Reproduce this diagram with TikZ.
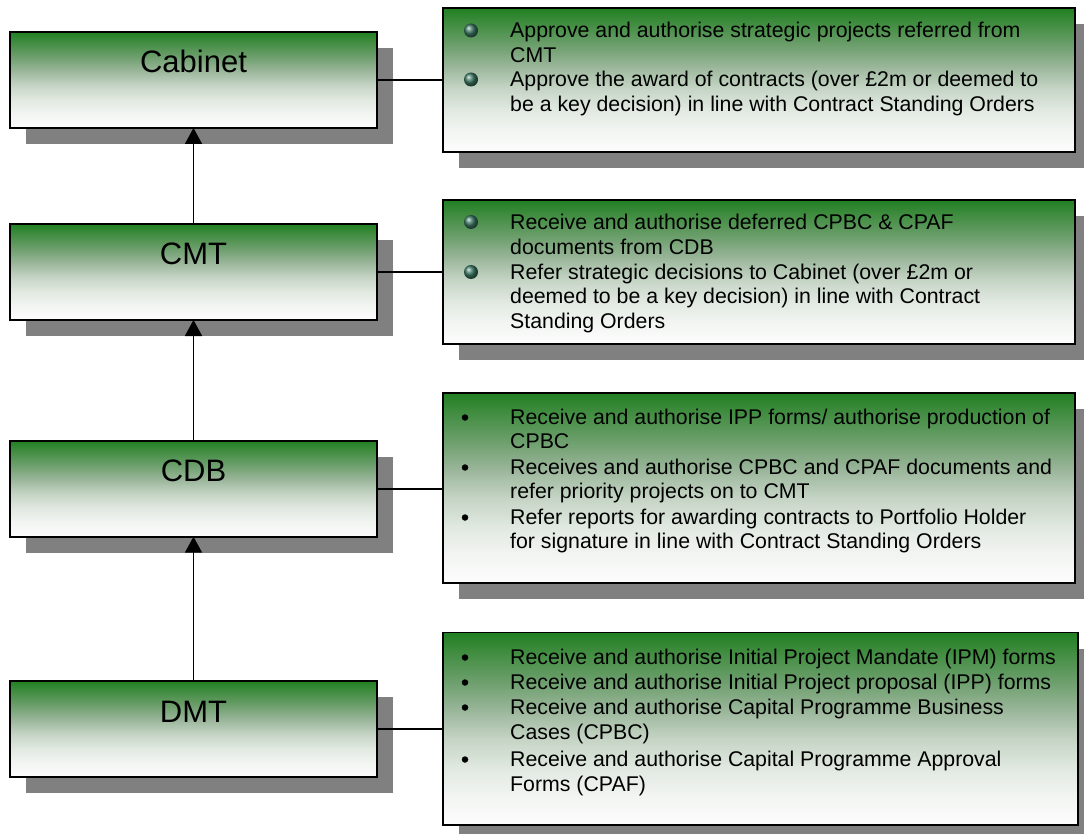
\documentclass[tikz,border=0pt]{standalone}
\usepackage{fontspec}
\setmainfont{Liberation Sans}
\usetikzlibrary{shadows,arrows.meta}
\pgfdeclareverticalshading{greenfade}{100bp}{rgb(0bp)=(0.99,0.99,0.99); rgb(25bp)=(0.99,0.99,0.99); rgb(32.5bp)=(0.95,0.96,0.95); rgb(40bp)=(0.88,0.91,0.88); rgb(47.5bp)=(0.77,0.83,0.77); rgb(55bp)=(0.6,0.71,0.6); rgb(62.5bp)=(0.42,0.62,0.42); rgb(70bp)=(0.25,0.55,0.25); rgb(75bp)=(0.13,0.5,0.13); rgb(100bp)=(0.13,0.5,0.13)}
\definecolor{shadowc}{RGB}{128,128,128}
\definecolor{ballc}{RGB}{60,120,100}
\begin{document}
\begin{tikzpicture}[x=1pt,y=-1pt,
  box/.style={draw=black, line width=1.9pt, shade, shading=greenfade, inner sep=0pt, outer sep=0pt,
    drop shadow={shadow xshift=16pt, shadow yshift=-16pt, opacity=1, fill=shadowc, draw=none}},
  lbox/.style={box, minimum width=367pt, minimum height=96pt},
  ltext/.style={anchor=base, font=\fontsize{31}{37}\selectfont, inner sep=0pt},
  rtext/.style={anchor=base west, font=\fontsize{21.3}{25}\selectfont, inner sep=0pt},
  ballb/.style={circle, minimum size=14pt, inner sep=0pt, ball color=ballc},
  dotb/.style={circle, fill=black, minimum size=6.5pt, inner sep=0pt},
  conn/.style={line width=1.8pt},
  arr/.style={line width=1.8pt, -{Triangle[width=17pt,length=16pt]}}
]
\useasboundingbox (0,0) rectangle (1084,834);

% left boxes
\node[lbox] (cab) at (193.5,80) {};
\node[lbox] (cmt) at (193.5,272) {};
\node[lbox] (cdb) at (193.5,488.7) {};
\node[lbox] (dmt) at (193.5,729) {};
\node[ltext] (cabT) at (193.5,73) {Cabinet};
\node[ltext] (cmtT) at (193.5,265) {CMT};
\node[ltext] (cdbT) at (193.5,481.7) {CDB};
\node[ltext] (dmtT) at (193.5,722) {DMT};

% right boxes
\node[box, minimum width=632.3pt, minimum height=144pt] (r1) at (758.85,80.3) {};
\node[box, minimum width=632.3pt, minimum height=144.3pt] (r2) at (758.85,272.15) {};
\node[box, minimum width=632.3pt, minimum height=190.6pt] (r3) at (758.85,488) {};
\node[box, minimum width=635.3pt, minimum height=192.5pt] (r4) at (760.35,728.75) {};

% connectors
\draw[conn] (cab.east) -- (cab.east -| r1.west);
\draw[conn] (cmt.east) -- (cmt.east -| r2.west);
\draw[conn] (cdb.east) -- (cdb.east -| r3.west);
\draw[conn] (dmt.east) -- (dmt.east -| r4.west);
\draw[arr] (cmt.north) -- (cab.south);
\draw[arr] (cdb.north) -- (cmt.south);
\draw[arr] (dmt.north) -- (cdb.south);

% box 1 text
\node[ballb] (b11) at (471,30.5) {};
\node[ballb] (b12) at (471,79.5) {};
\node[rtext] (t11) at (510,38) {Approve and authorise strategic projects referred from};
\node[rtext] (t12) at (510,62.5) {CMT};
\node[rtext] (t13) at (510,87) {Approve the award of contracts (over £2m or deemed to};
\node[rtext] (t14) at (510,111.5) {be a key decision) in line with Contract Standing Orders};

% box 2 text
\node[ballb] (b21) at (471,222) {};
\node[ballb] (b22) at (471,272) {};
\node[rtext] (t21) at (510,229.5) {Receive and authorise deferred CPBC \& CPAF};
\node[rtext] (t22) at (510,254.5) {documents from CDB};
\node[rtext] (t23) at (510,279.5) {Refer strategic decisions to Cabinet (over £2m or};
\node[rtext] (t24) at (510,303.5) {deemed to be a key decision) in line with Contract};
\node[rtext] (t25) at (510,328.5) {Standing Orders};

% box 3 text
\node[dotb] (b31) at (465,417.5) {};
\node[dotb] (b32) at (465,467.5) {};
\node[dotb] (b33) at (465,517.5) {};
\node[rtext] (t31) at (510,424.5) {Receive and authorise IPP forms/ authorise production of};
\node[rtext] (t32) at (510,448.5) {CPBC};
\node[rtext] (t33) at (510,474.5) {Receives and authorise CPBC and CPAF documents and};
\node[rtext] (t34) at (510,498.5) {refer priority projects on to CMT};
\node[rtext] (t35) at (510,524.5) {Refer reports for awarding contracts to Portfolio Holder};
\node[rtext] (t36) at (510,548.5) {for signature in line with Contract Standing Orders};

% box 4 text
\node[dotb] (b41) at (465,657.5) {};
\node[dotb] (b42) at (465,682.5) {};
\node[dotb] (b43) at (465,707.5) {};
\node[dotb] (b44) at (465,759.5) {};
\node[rtext] (t41) at (510,664.5) {Receive and authorise Initial Project Mandate (IPM) forms};
\node[rtext] (t42) at (510,689.5) {Receive and authorise Initial Project proposal (IPP) forms};
\node[rtext] (t43) at (510,714.5) {Receive and authorise Capital Programme Business};
\node[rtext] (t44) at (510,739.5) {Cases (CPBC)};
\node[rtext] (t45) at (510,766.5) {Receive and authorise Capital Programme Approval};
\node[rtext] (t46) at (510,791.5) {Forms (CPAF)};
\end{tikzpicture}
\end{document}
